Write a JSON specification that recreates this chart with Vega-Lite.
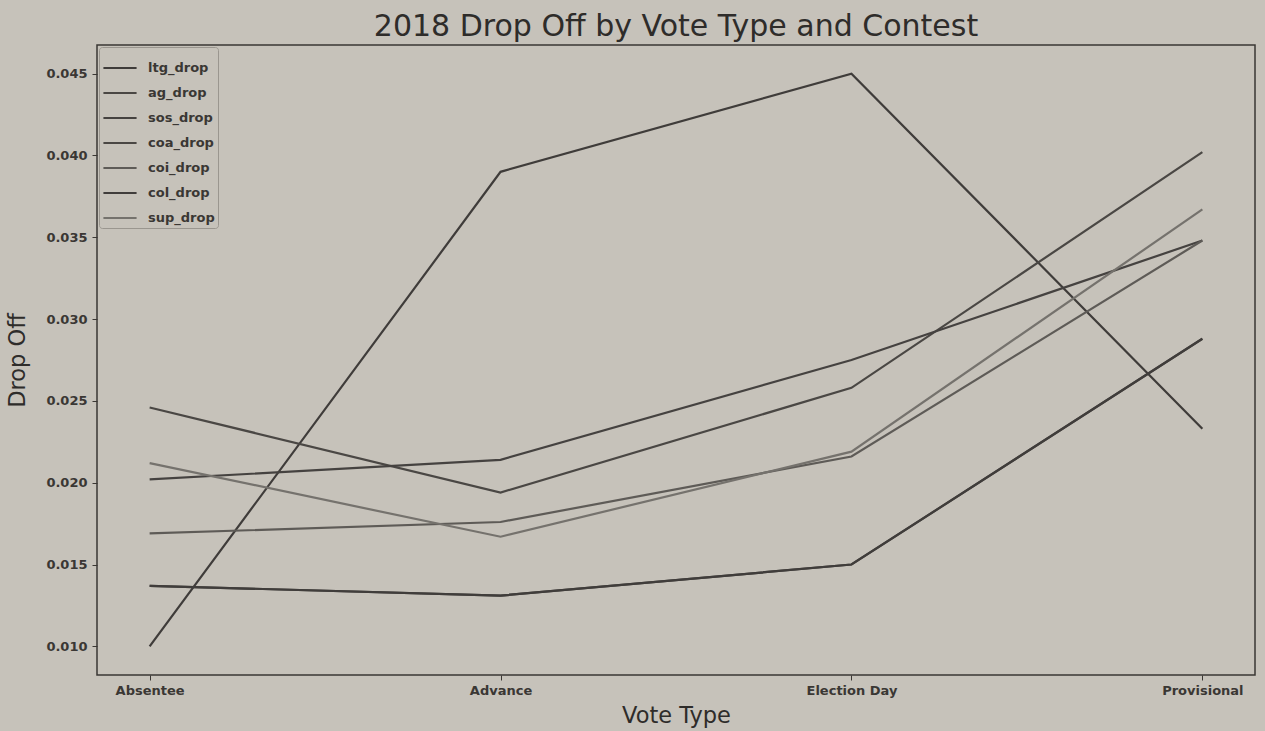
{
  "$schema": "https://vega.github.io/schema/vega-lite/v6.json",
  "width": 1158,
  "height": 630,
  "autosize": {"type": "none"},
  "padding": {"left": 97, "top": 45, "right": 10, "bottom": 56},
  "background": "#c6c2ba",
  "title": {
    "text": "2018 Drop Off by Vote Type and Contest",
    "font": "DejaVu Sans",
    "fontSize": 30,
    "fontWeight": "normal",
    "color": "#2e2c2a",
    "anchor": "middle",
    "offset": 3
  },
  "config": {
    "view": {"stroke": "#3a3734", "strokeWidth": 1.5},
    "font": "DejaVu Sans"
  },
  "data": {
    "values": [
      {"type": "Absentee", "contest": "ltg_drop", "v": 0.0100},
      {"type": "Advance", "contest": "ltg_drop", "v": 0.0390},
      {"type": "Election Day", "contest": "ltg_drop", "v": 0.0450},
      {"type": "Provisional", "contest": "ltg_drop", "v": 0.0233},
      {"type": "Absentee", "contest": "ag_drop", "v": 0.0246},
      {"type": "Advance", "contest": "ag_drop", "v": 0.0194},
      {"type": "Election Day", "contest": "ag_drop", "v": 0.0258},
      {"type": "Provisional", "contest": "ag_drop", "v": 0.0402},
      {"type": "Absentee", "contest": "sos_drop", "v": 0.0202},
      {"type": "Advance", "contest": "sos_drop", "v": 0.0214},
      {"type": "Election Day", "contest": "sos_drop", "v": 0.0275},
      {"type": "Provisional", "contest": "sos_drop", "v": 0.0348},
      {"type": "Absentee", "contest": "coa_drop", "v": 0.0137},
      {"type": "Advance", "contest": "coa_drop", "v": 0.0131},
      {"type": "Election Day", "contest": "coa_drop", "v": 0.0150},
      {"type": "Provisional", "contest": "coa_drop", "v": 0.0288},
      {"type": "Absentee", "contest": "coi_drop", "v": 0.0169},
      {"type": "Advance", "contest": "coi_drop", "v": 0.0176},
      {"type": "Election Day", "contest": "coi_drop", "v": 0.0216},
      {"type": "Provisional", "contest": "coi_drop", "v": 0.0348},
      {"type": "Absentee", "contest": "col_drop", "v": 0.0137},
      {"type": "Advance", "contest": "col_drop", "v": 0.0131},
      {"type": "Election Day", "contest": "col_drop", "v": 0.0150},
      {"type": "Provisional", "contest": "col_drop", "v": 0.0288},
      {"type": "Absentee", "contest": "sup_drop", "v": 0.0212},
      {"type": "Advance", "contest": "sup_drop", "v": 0.0167},
      {"type": "Election Day", "contest": "sup_drop", "v": 0.0219},
      {"type": "Provisional", "contest": "sup_drop", "v": 0.0367}
    ]
  },
  "mark": {"type": "line", "strokeWidth": 2.2},
  "encoding": {
    "x": {
      "field": "type",
      "type": "nominal",
      "sort": ["Absentee", "Advance", "Election Day", "Provisional"],
      "scale": {"type": "point", "padding": 0.15},
      "axis": {
        "title": "Vote Type",
        "titleFontSize": 22.5,
        "titleFontWeight": "normal",
        "titleColor": "#2e2c2a",
        "titlePadding": 7,
        "labelAngle": 0,
        "labelFontSize": 13,
        "labelFontWeight": "bold",
        "labelColor": "#3a3734",
        "labelPadding": 4,
        "tickColor": "#3a3734",
        "tickSize": 5,
        "domain": false,
        "grid": false
      }
    },
    "y": {
      "field": "v",
      "type": "quantitative",
      "scale": {"domain": [0.00825, 0.04675], "nice": false, "zero": false},
      "axis": {
        "title": "Drop Off",
        "titleFontSize": 22.5,
        "titleFontWeight": "normal",
        "titleColor": "#2e2c2a",
        "titlePadding": 16,
        "values": [0.010, 0.015, 0.020, 0.025, 0.030, 0.035, 0.040, 0.045],
        "format": ".3f",
        "labelFontSize": 13,
        "labelFontWeight": "bold",
        "labelColor": "#3a3734",
        "labelPadding": 5,
        "tickColor": "#3a3734",
        "tickSize": 5,
        "domain": false,
        "grid": false
      }
    },
    "color": {
      "field": "contest",
      "type": "nominal",
      "sort": ["ltg_drop", "ag_drop", "sos_drop", "coa_drop", "coi_drop", "col_drop", "sup_drop"],
      "scale": {
        "domain": ["ltg_drop", "ag_drop", "sos_drop", "coa_drop", "coi_drop", "col_drop", "sup_drop"],
        "range": ["#3f3c3a", "#4a4744", "#454240", "#4a4744", "#5e5b57", "#403d3b", "#75726d"]
      },
      "legend": {
        "title": null,
        "orient": "top-left",
        "offset": 2,
        "symbolType": "stroke",
        "symbolSize": 1100,
        "symbolStrokeWidth": 2.2,
        "labelFontSize": 13,
        "labelFontWeight": "bold",
        "labelColor": "#3a3734",
        "labelOffset": 10,
        "rowPadding": -1,
        "strokeColor": "#9a968f",
        "padding": 3,
        "cornerRadius": 3
      }
    }
  }
}
